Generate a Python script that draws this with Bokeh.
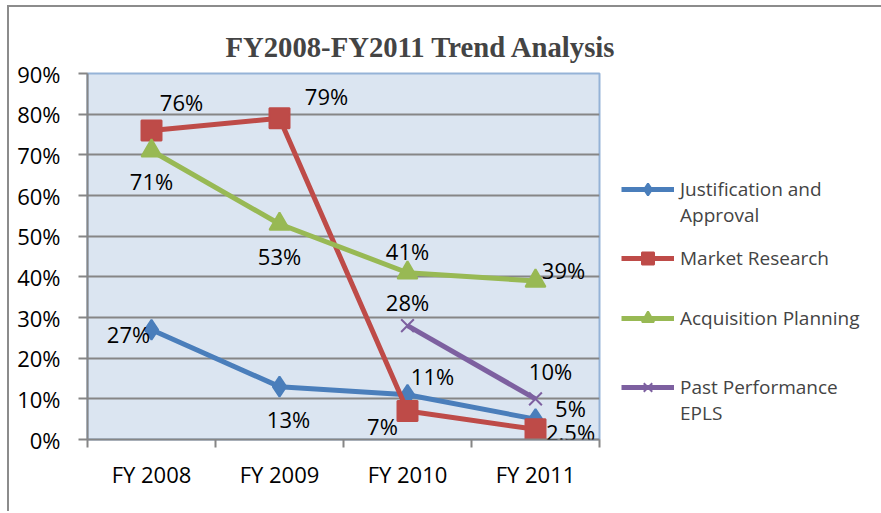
import math
from bokeh.plotting import figure
from bokeh.models import (ColumnDataSource, FixedTicker, NumeralTickFormatter, Range1d,
                          Legend, LegendItem, LabelSet)
from bokeh.core.properties import value
from bokeh.embed import file_html
from bokeh.resources import INLINE

# ---- data ----
categories = ["FY 2008", "FY 2009", "FY 2010", "FY 2011"]
justification = [0.27, 0.13, 0.11, 0.05]
market_research = [0.76, 0.79, 0.07, 0.025]
acquisition = [0.71, 0.53, 0.41, 0.39]
past_performance = [float("nan"), float("nan"), 0.28, 0.10]
series_names = ["Justification and\nApproval", "Market Research",
                "Acquisition Planning", "Past Performance\nEPLS"]
y_ticks = [0.0, 0.1, 0.2, 0.3, 0.4, 0.5, 0.6, 0.7, 0.8, 0.9]

# ---- styles / label placement (screen-pixel offsets, +down) ----
colors = ["#4A7EBB", "#BE4B48", "#98B954", "#7D60A0"]
markers = ["diamond", "square", "triangle", "x"]
marker_sizes = [20, 20, 20, 18]
label_dx = [[-23, 9, 25, 35], [30, 47, -25, 35], [0, 0, 0, 28], [0, 0, 0, 15]]
label_dy = [[4, 32, -19, -11], [-28, -22, 15, 3], [30, 32, -22, -11], [0, 0, -24, -28]]
FONT = "Open Sans"
FRAME_W, FRAME_H = 512, 366

p = figure(frame_width=FRAME_W, frame_height=FRAME_H, output_backend="svg", toolbar_location=None,
           min_border_left=78, min_border_top=66, min_border_right=270, min_border_bottom=72,
           x_range=Range1d(-0.5, 3.5), y_range=Range1d(0, 0.9))
p.styles = {"border-top": "2px solid #8C8C8C", "border-left": "2px solid #8C8C8C",
            "margin-left": "7px", "margin-top": "5px"}
p.background_fill_color = "#DBE5F1"
p.border_fill_color = "white"
p.outline_line_color = "#95B3D7"
p.outline_line_width = 2

p.title.text = "FY2008-FY2011 Trend Analysis"
p.title.text_font = "Liberation Serif"
p.title.text_font_style = "bold"
p.title.text_font_size = "28.7px"
p.title.align = "left"
p.title.offset = 138
p.title.standoff = 21

xs = list(range(len(categories)))
p.xaxis.ticker = FixedTicker(ticks=xs, minor_ticks=[i - 0.5 for i in range(len(categories) + 1)])
p.xaxis.major_label_overrides = {i: c for i, c in enumerate(categories)}
p.xaxis.major_tick_out = 0
p.xaxis.major_tick_in = 0
p.xaxis.minor_tick_out = 8
p.xaxis.minor_tick_in = 0
p.xaxis.minor_tick_line_color = "#868686"
p.xaxis.minor_tick_line_width = 2
p.xaxis.axis_line_color = "#868686"
p.xaxis.axis_line_width = 2
p.xaxis.major_label_standoff = 11
p.xgrid.visible = False

p.yaxis.ticker = FixedTicker(ticks=y_ticks, minor_ticks=[])
p.yaxis.formatter = NumeralTickFormatter(format="0%")
p.yaxis.major_tick_out = 9
p.yaxis.major_tick_in = 0
p.yaxis.major_tick_line_color = "#868686"
p.yaxis.major_tick_line_width = 2
p.yaxis.axis_line_color = "#868686"
p.yaxis.axis_line_width = 2
p.yaxis.major_label_standoff = 18
p.ygrid.grid_line_color = "#868686"
p.ygrid.grid_line_width = 2

for ax in (p.xaxis, p.yaxis):
    ax.major_label_text_font = FONT
    ax.major_label_text_font_size = "22px"
    ax.major_label_text_color = "black"

all_series = [justification, market_research, acquisition, past_performance]
items = []
for k, vals in enumerate(all_series):
    src = ColumnDataSource(dict(x=xs, y=vals))
    ln = p.line("x", "y", source=src, line_color=colors[k], line_width=5)
    mk = p.scatter("x", "y", source=src, marker=markers[k], size=marker_sizes[k],
                   fill_color=colors[k], line_color=colors[k], line_width=2)
    # leading blank line keeps the legend glyph level with the first text line
    lab = ("\n" + series_names[k]) if "\n" in series_names[k] else series_names[k]
    items.append(LegendItem(label=lab, renderers=[ln, mk]))
    lx, ly, lt, ox, oy = [], [], [], [], []
    for i, v in enumerate(vals):
        if isinstance(v, float) and math.isnan(v):
            continue
        lx.append(i); ly.append(v)
        lt.append(f"{v * 100:g}%")
        ox.append(label_dx[k][i]); oy.append(-label_dy[k][i])
    lsrc = ColumnDataSource(dict(x=lx, y=ly, t=lt, ox=ox, oy=oy))
    p.add_layout(LabelSet(x="x", y="y", text="t", source=lsrc, x_offset="ox", y_offset="oy",
                          text_align="center", text_baseline="middle", text_font=value(FONT),
                          text_font_size=value("22px"), text_color="black"))

legend = Legend(items=items, location=(22, 13))
legend.label_text_font = FONT
legend.label_text_font_size = "19px"
legend.glyph_width = 53
legend.glyph_height = 30
legend.label_height = 60
legend.spacing = 0
legend.border_line_color = None
legend.background_fill_alpha = 0
legend.margin = 0
legend.padding = 0
legend.label_standoff = 6
p.add_layout(legend, "right")

open("out.html", "w").write(file_html(p, INLINE))
